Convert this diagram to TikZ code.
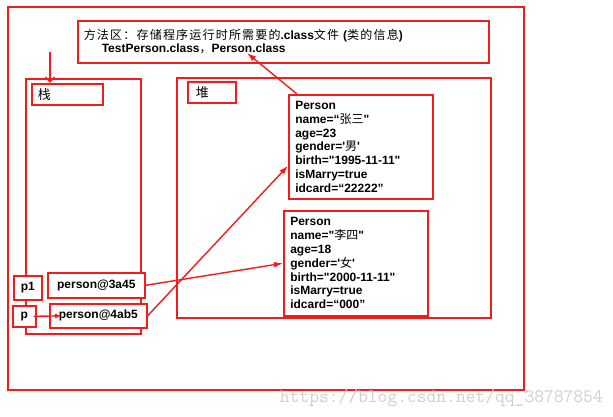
\documentclass[tikz,border=0pt]{standalone}
\usepackage{fontspec}
\setmainfont{Liberation Sans}
\newfontfamily\zh{Noto Sans CJK SC}
\newfontfamily\zhw[LetterSpace=10]{Noto Sans CJK SC}
\usepackage{tikz}
\usetikzlibrary{arrows.meta,positioning,calc,shadows}
\definecolor{memred}{HTML}{F21C1C}
\definecolor{wmgray}{HTML}{CFCFCF}

\begin{document}
\begin{tikzpicture}[
  x=1pt, y=-1pt,
  area/.style={draw=memred,line width=1.6pt,fill=white,anchor=north west,inner sep=0pt,
               drop shadow={shadow xshift=1.5pt,shadow yshift=-1.5pt,opacity=.4}},
  tag/.style={area,font=\zh\fontsize{13}{13}\selectfont,align=left,inner xsep=6pt,minimum height=21pt},
  obj/.style={area,font=\bfseries\fontsize{12}{13.8}\selectfont,align=left,
              text width=131pt,inner xsep=6.5pt,minimum height=104pt},
  var/.style={area,font=\bfseries\fontsize{12}{14}\selectfont},
  ref/.style={-{Latex[length=9pt,width=6pt]},memred,line width=1.4pt}
]
  \useasboundingbox (0,0) rectangle (613,416);

  % memory areas
  \node[area,minimum width=516pt,minimum height=383pt] (jvm) at (7,6) {};
  \node[area,align=left,text width=399pt,inner xsep=6pt,minimum height=42pt,
        font=\bfseries\fontsize{12}{13}\selectfont] (method) at (77,20)
    {{\mdseries\zhw 方法区：存储程序运行时所需要的}.class{\mdseries\zhw 文件} ({\mdseries\zhw 类的信息})\\
     \hspace*{18pt}TestPerson.class{\mdseries\zh ，}Person.class};
  \node[area,minimum width=115pt,minimum height=255pt] (stack) at (25,78) {};
  \node[area,minimum width=314pt,minimum height=240pt] (heap) at (176,77) {};
  \node[tag,text width=59pt] (stklbl) at (31,83) {栈};
  \node[tag,text width=32pt,inner xsep=8pt] (heaplbl) at (187,81) {堆};

  % objects in the heap
  \node[obj] (zs) at (288,94) {Person\\name=“{\mdseries\zh 张三}\textquotedbl\\age=23\\
    gender=\textquotesingle{\mdseries\zh 男}\textquotesingle\\birth=\textquotedbl 1995-11-11\textquotedbl\\isMarry=true\\idcard=“22222”};
  \node[obj,minimum height=105pt] (ls) at (283,210) {Person\\name=\textquotedbl{\mdseries\zh 李四}\textquotedbl\\age=18\\
    gender=\textquotesingle{\mdseries\zh 女}\textquotesingle\\birth=\textquotedbl 2000-11-11\textquotedbl\\isMarry=true\\idcard=“000”};

  % references on the stack
  \node[var,minimum width=28pt,minimum height=24pt] (p1) at (13,275) {p1};
  \node[var,minimum width=97pt,minimum height=25pt] (a45) at (47,272) {person@3a45};
  \node[var,minimum width=23pt,minimum height=21pt] (p) at (12,305) {p};
  \node[var,minimum width=97pt,minimum height=24pt] (ab5) at (49,303) {person@4ab5};

  \coordinate (stkin) at (50,52);
  \coordinate (clsref) at (247,53);
  \draw[ref,-{Straight Barb[length=5pt,width=9pt]}] (stkin) -- (stkin |- stklbl.north);
  \draw[ref] ($(zs.north west)+(9,0)$) -- (clsref);
  \draw[ref,-{Latex[length=7pt,width=5pt]}] ([xshift=-3pt]p.east) -- ($(ab5.west)+(13,0)$);
  \draw[ref] (a45.east) -- (ls.west);
  \draw[ref] (ab5.east) -- ($(zs.west)+(0,19)$);

  \node[anchor=base east,text=wmgray,inner sep=0pt,
        font=\ttfamily\fontsize{19}{19}\selectfont] (wm) at (603,402) {https://blog.csdn.net/qq\_38787854};
\end{tikzpicture}
\end{document}
